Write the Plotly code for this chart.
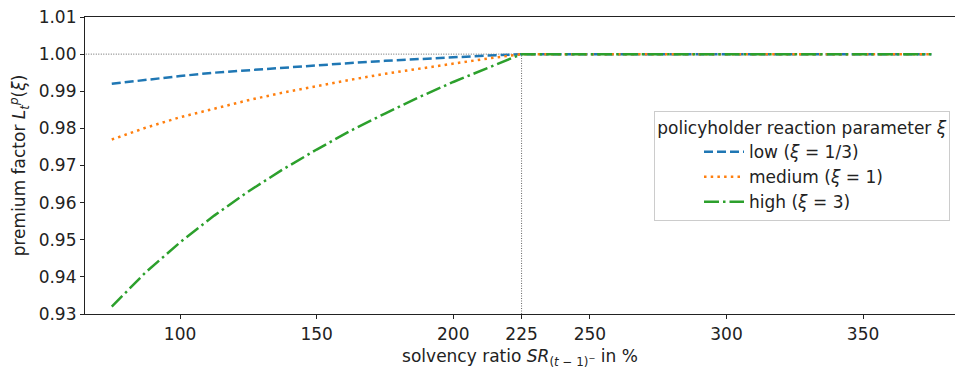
import plotly.graph_objects as go

# Data
sr = [75, 87.5, 100, 112.5, 125, 137.5, 150, 162.5, 175, 187.5, 200, 212.5, 225, 250, 300, 350, 375]
low = [0.9920, 0.9931, 0.9941, 0.9950, 0.9957, 0.9964, 0.9970, 0.9976, 0.9982, 0.9987, 0.9991, 0.9996, 1.0, 1.0, 1.0, 1.0, 1.0]
medium = [0.9770, 0.9802, 0.9830, 0.9854, 0.9876, 0.9896, 0.9914, 0.9931, 0.9947, 0.9961, 0.9975, 0.9988, 1.0, 1.0, 1.0, 1.0, 1.0]
high = [0.9320, 0.9413, 0.9493, 0.9565, 0.9630, 0.9689, 0.9743, 0.9794, 0.9840, 0.9884, 0.9925, 0.9963, 1.0, 1.0, 1.0, 1.0, 1.0]

series_names = ["low (<i>ξ</i> = 1/3)", "medium (<i>ξ</i> = 1)", "high (<i>ξ</i> = 3)"]
series_vals = [low, medium, high]
colors = ["#1f77b4", "#ff7f0e", "#2ca02c"]
dashes = ["9px,4px", "2.5px,4.2px", "15px,4px,2.5px,4px"]

x_ticks = [100, 150, 200, 225, 250, 300, 350]
y_ticks = [0.93, 0.94, 0.95, 0.96, 0.97, 0.98, 0.99, 1.00, 1.01]
threshold = 225
ref_level = 1.0

FONT = "DejaVu Sans"
FS = 17
fig = go.Figure()

for name, vals, c, d in zip(series_names, series_vals, colors, dashes):
    fig.add_trace(go.Scatter(x=sr, y=vals, mode="lines", name=name,
                             line=dict(color=c, width=2.5, dash=d)))

# reference lines
fig.add_shape(type="line", xref="x", yref="y", x0=60, x1=threshold, y0=ref_level, y1=ref_level,
              line=dict(color="#666666", width=1, dash="1px,1.5px"), layer="below")
fig.add_shape(type="line", xref="x", yref="y", x0=threshold, x1=threshold, y0=0.93, y1=ref_level,
              line=dict(color="#666666", width=1, dash="1px,1.5px"), layer="below")

fig.update_layout(
    width=955, height=369,
    margin=dict(l=85, r=0, t=17, b=55),
    paper_bgcolor="white", plot_bgcolor="white",
    font=dict(family=FONT, size=FS, color="#222222"),
    showlegend=True,
    legend=dict(
        x=(950 - 85) / 870, xanchor="right", y=(314 - 111) / 297, yanchor="top",
        bgcolor="rgba(255,255,255,0.85)", bordercolor="#cccccc", borderwidth=1,
        font=dict(family=FONT, size=FS, color="#222222"),
        title=dict(text="policyholder reaction parameter <i>ξ</i>", side="top center",
                   font=dict(family=FONT, size=FS, color="#222222")),
        tracegroupgap=0, itemwidth=40, indentation=44,
    ),
    xaxis=dict(
        range=[65.2, 65.2 + 870 / 2.732],
        tickmode="array", tickvals=x_ticks, ticktext=[str(v) for v in x_ticks],
        ticks="outside", ticklen=4, tickwidth=1, tickcolor="#222222",
        showline=True, linecolor="#222222", linewidth=1.2, mirror=True,
        showgrid=False, zeroline=False,
        title=dict(text="solvency ratio <i>SR</i><sub>(<i>t</i> − 1)<sup>−</sup></sub> in %",
                   standoff=11, font=dict(family=FONT, size=FS)),
    ),
    yaxis=dict(
        range=[0.93, 1.01],
        tickmode="array", tickvals=y_ticks, ticktext=[f"{v:.2f}" for v in y_ticks],
        ticks="outside", ticklen=4, tickwidth=1, tickcolor="#222222",
        showline=True, linecolor="#222222", linewidth=1.2, mirror=False,
        showgrid=False, zeroline=False,
        title=dict(text="premium factor <i>L</i><sub><i>t</i></sub><sup><i>p</i></sup>(<i>ξ</i>)",
                   standoff=8, font=dict(family=FONT, size=FS)),
    ),
)

fig.write_html("out.html")
